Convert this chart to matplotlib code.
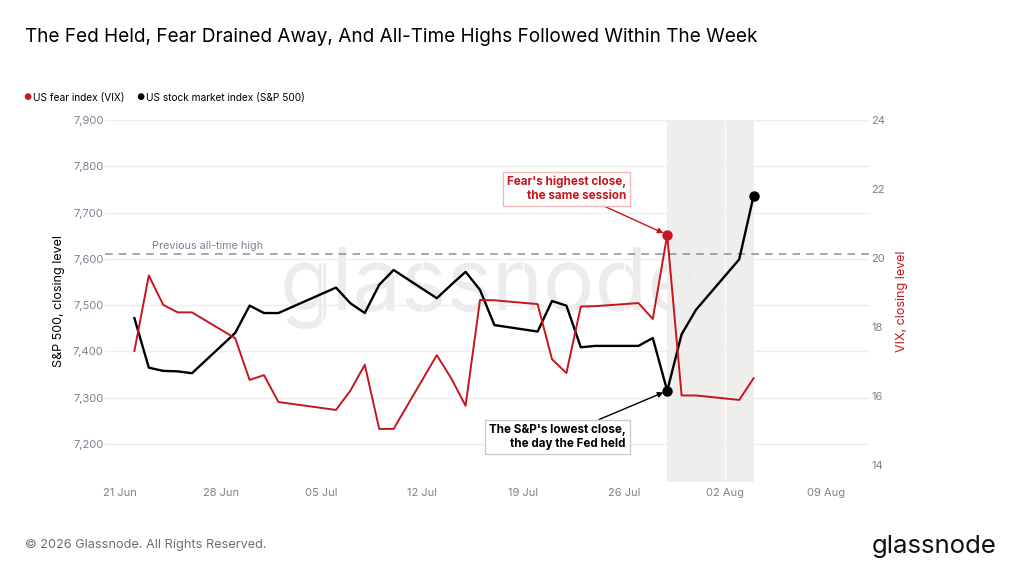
import numpy as np
import pandas as pd
import matplotlib
matplotlib.use("Agg")
import matplotlib.pyplot as plt
import matplotlib.dates as mdates

plt.rcParams['font.family'] = ['Inter', 'DejaVu Sans']

# -------- Data --------
dates = pd.to_datetime([
    "2026-06-22", "2026-06-23", "2026-06-24", "2026-06-25", "2026-06-26",
    "2026-06-29", "2026-06-30", "2026-07-01", "2026-07-02",
    "2026-07-06", "2026-07-07", "2026-07-08", "2026-07-09", "2026-07-10",
    "2026-07-13", "2026-07-14", "2026-07-15", "2026-07-16", "2026-07-17",
    "2026-07-20", "2026-07-21", "2026-07-22", "2026-07-23", "2026-07-24",
    "2026-07-27", "2026-07-28", "2026-07-29", "2026-07-30", "2026-07-31",
    "2026-08-03", "2026-08-04",
])
spx = [7472, 7365, 7358, 7357, 7353,
       7440, 7499, 7483, 7483,
       7538, 7504, 7483, 7544, 7576,
       7515, 7544, 7572, 7533, 7457,
       7443, 7509, 7499, 7409, 7412,
       7412, 7429, 7315, 7437, 7490,
       7599, 7736]
vix = [17.30, 19.49, 18.64, 18.42, 18.42,
       17.67, 16.46, 16.60, 15.82,
       15.59, 16.15, 16.90, 15.04, 15.04,
       17.18, 16.51, 15.71, 18.78, 18.77,
       18.66, 17.06, 16.66, 18.59, 18.60,
       18.69, 18.23, 20.67, 16.01, 16.01,
       15.88, 16.51]
prev_ath = 7610
fed_day = pd.Timestamp("2026-07-29")
last_day = pd.Timestamp("2026-08-04")

RED = "#c4161c"
GREY = "#7c8191"

# -------- Figure --------
fig = plt.figure(figsize=(10.24, 5.76), dpi=100)
ax = fig.add_axes([105 / 1024, 1 - 482 / 576, 765 / 1024, 362 / 576])
ax2 = ax.twinx()
ax.patch.set_alpha(0)
ax2.patch.set_alpha(0)

# watermark, under the lines
ax.text(0.477, 0.50, "glassnode", transform=fig.transFigure, fontsize=62,
        color="#ececec", ha="center", va="center", zorder=0.5)

ax.axvspan(fed_day, last_day, color="#efeeec", zorder=0.2, lw=0)

ax.plot(dates, spx, color="black", lw=1.7, zorder=4)
ax2.plot(dates, vix, color=RED, lw=1.4, zorder=3)

i_fed = list(dates).index(fed_day)
ax.plot([dates[i_fed], dates[-1]], [spx[i_fed], spx[-1]], "o",
        color="black", ms=6.5, zorder=5)
ax2.plot([dates[i_fed]], [vix[i_fed]], "o", color=RED, ms=6.5, zorder=5)

ax.axhline(prev_ath, color="#8c90a0", lw=1.1, ls=(0, (5, 4)), zorder=2)
ax.text(pd.Timestamp("2026-06-23 05:00"), prev_ath + 8, "Previous all-time high",
        color=GREY, fontsize=7.8, va="bottom")

# -------- Axes --------
ax.set_xlim(pd.Timestamp("2026-06-19 23:00"), pd.Timestamp("2026-08-12 02:00"))
ax.set_ylim(7118, 7900)
ax2.set_ylim(13.5, 24)
ax.set_yticks([7200, 7300, 7400, 7500, 7600, 7700, 7800, 7900])
ax.yaxis.set_major_formatter(matplotlib.ticker.StrMethodFormatter("{x:,.0f}"))
ax2.set_yticks([14, 16, 18, 20, 22, 24])
ax.xaxis.set_major_locator(mdates.WeekdayLocator(byweekday=mdates.SU))
ax.xaxis.set_major_formatter(mdates.DateFormatter("%d %b"))

for a in (ax, ax2):
    for s in a.spines.values():
        s.set_visible(False)
    a.tick_params(length=0, colors=GREY, labelsize=8)
ax.tick_params(axis="x", pad=4)
ax.tick_params(axis="y", pad=1)
ax2.tick_params(axis="y", pad=1)

ax.grid(axis="y", color="#eeeeee", lw=1)
ax.grid(axis="x", color="white", lw=1)
ax.set_axisbelow(True)

ax.set_ylabel("S&P 500, closing level", fontsize=9, color="black", labelpad=6)
ax2.set_ylabel("VIX, closing level", fontsize=9, color=RED, labelpad=8)

# -------- Annotations --------
ax2.annotate("Fear's highest close,\nthe same session",
             xy=(dates[i_fed], vix[i_fed]), xycoords="data",
             xytext=(626 / 1024, 1 - 189 / 576), textcoords="figure fraction",
             ha="right", va="center", fontsize=8.4, fontweight="bold", color=RED,
             multialignment="right",
             bbox=dict(boxstyle="square,pad=0.35", fc="white", ec="#f2b9b9", lw=1),
             arrowprops=dict(arrowstyle="-|>", color=RED, lw=1, shrinkA=0, shrinkB=3,
                             mutation_scale=8),
             zorder=6)
ax.annotate("The S&P's lowest close,\nthe day the Fed held",
            xy=(dates[i_fed], spx[i_fed]), xycoords="data",
            xytext=(626 / 1024, 1 - 437 / 576), textcoords="figure fraction",
            ha="right", va="center", fontsize=8.4, fontweight="bold", color="black",
            multialignment="right",
            bbox=dict(boxstyle="square,pad=0.35", fc="white", ec="#cccccc", lw=1),
            arrowprops=dict(arrowstyle="-|>", color="black", lw=1, shrinkA=0, shrinkB=3,
                            mutation_scale=8),
            zorder=6)

# -------- Titles, legend, footer --------
fig.text(25 / 1024, 1 - 37 / 576,
         "The Fed Held, Fear Drained Away, And All-Time Highs Followed Within The Week",
         fontsize=13.65, color="black", va="center")

fig.text(27 / 1024, 1 - 98 / 576, "\u25CF", color=RED, fontsize=6.5, va="center", ha="center")
fig.text(33 / 1024, 1 - 98 / 576, "US fear index (VIX)", fontsize=7.3, va="center")
fig.text(140 / 1024, 1 - 98 / 576, "\u25CF", color="black", fontsize=6.5, va="center", ha="center")
fig.text(146 / 1024, 1 - 98 / 576, "US stock market index (S&P 500)", fontsize=7.3, va="center")

fig.text(25 / 1024, 1 - 545 / 576, "\u00A9 2026 Glassnode. All Rights Reserved.",
         fontsize=9.2, color="#6b6f7c", va="center")
fig.text(997 / 1024, 1 - 546 / 576, "glassnode", fontsize=18.5, color="#111111",
         ha="right", va="center")

fig.savefig("out.png", dpi=100)
